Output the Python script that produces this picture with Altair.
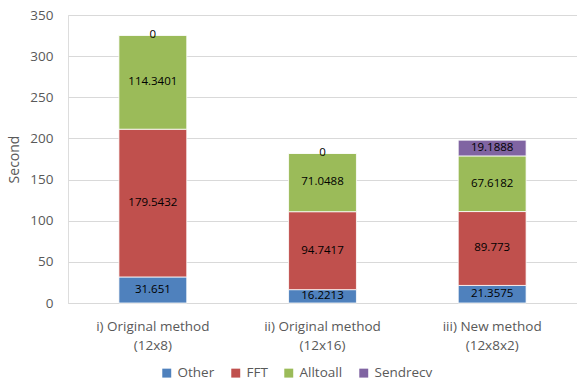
import altair as alt
import pandas as pd

categories = ["i) Original method|(12x8)", "ii) Original method|(12x16)", "iii) New method|(12x8x2)"]
series = ["Other", "FFT", "Alltoall", "Sendrecv"]
other = [31.651, 16.2213, 21.3575]
fft = [179.5432, 94.7417, 89.773]
alltoall = [114.3401, 71.0488, 67.6182]
sendrecv = [0, 0, 19.1888]
colors = ["#4F81BD", "#C0504D", "#9BBB59", "#8064A2"]

rows = []
for i, c in enumerate(categories):
    for k, (s, vals) in enumerate(zip(series, [other, fft, alltoall, sendrecv])):
        rows.append({"cat": c, "series": s, "order": k, "value": vals[i]})
df = pd.DataFrame(rows)

FONT = "Open Sans"

base = alt.Chart(df).transform_stack(
    stack="value", groupby=["cat"], as_=["y0", "y1"], sort=[alt.SortField("order")]
).transform_calculate(mid="(datum.y0 + datum.y1) / 2")

xenc = alt.X("cat:N", sort=categories, title=None,
             scale=alt.Scale(paddingInner=0.6, paddingOuter=0.3),
             axis=alt.Axis(labelExpr="split(datum.label, '|')", labelAngle=0,
                           labelColor="#595959", labelFont=FONT, labelFontSize=13.5,
                           labelPadding=16, ticks=False, domainColor="#D9D9D9",
                           labelLineHeight=19))

bars = base.mark_bar(stroke="white", strokeWidth=0.8).encode(
    x=xenc,
    y=alt.Y("y0:Q", title="Second", scale=alt.Scale(domain=[0, 350]),
            axis=alt.Axis(values=list(range(0, 351, 50)), domain=False, ticks=False,
                          gridColor="#D9D9D9", labelColor="#595959", labelFont=FONT,
                          labelFontSize=13.5, labelPadding=15, titleColor="#595959",
                          titleFont=FONT, titleFontSize=14, titleFontWeight="normal",
                          titlePadding=8)),
    y2="y1:Q",
    color=alt.Color("series:N", sort=series,
                    scale=alt.Scale(domain=series, range=colors),
                    legend=alt.Legend(title=None, orient="none", direction="horizontal",
                                      legendX=92, legendY=351, symbolType="square",
                                      symbolSize=80, labelFont=FONT, labelFontSize=13.5,
                                      labelColor="#595959", columnPadding=14,
                                      symbolStrokeWidth=0, padding=0)),
)

labels = base.mark_text(font=FONT, fontSize=11.5, color="black").encode(
    x=alt.X("cat:N", sort=categories),
    y=alt.Y("mid:Q"),
    text=alt.Text("value:Q"),
)

chart = alt.layer(bars, labels).properties(
    width=509, height=288,
    padding={"left": 68, "top": 15, "right": 0, "bottom": 80},
    autosize=alt.AutoSizeParams(type="none"),
).configure_view(stroke=None).configure(background="white")

chart.save("out.html", embed_options={"renderer": "svg", "actions": False})
